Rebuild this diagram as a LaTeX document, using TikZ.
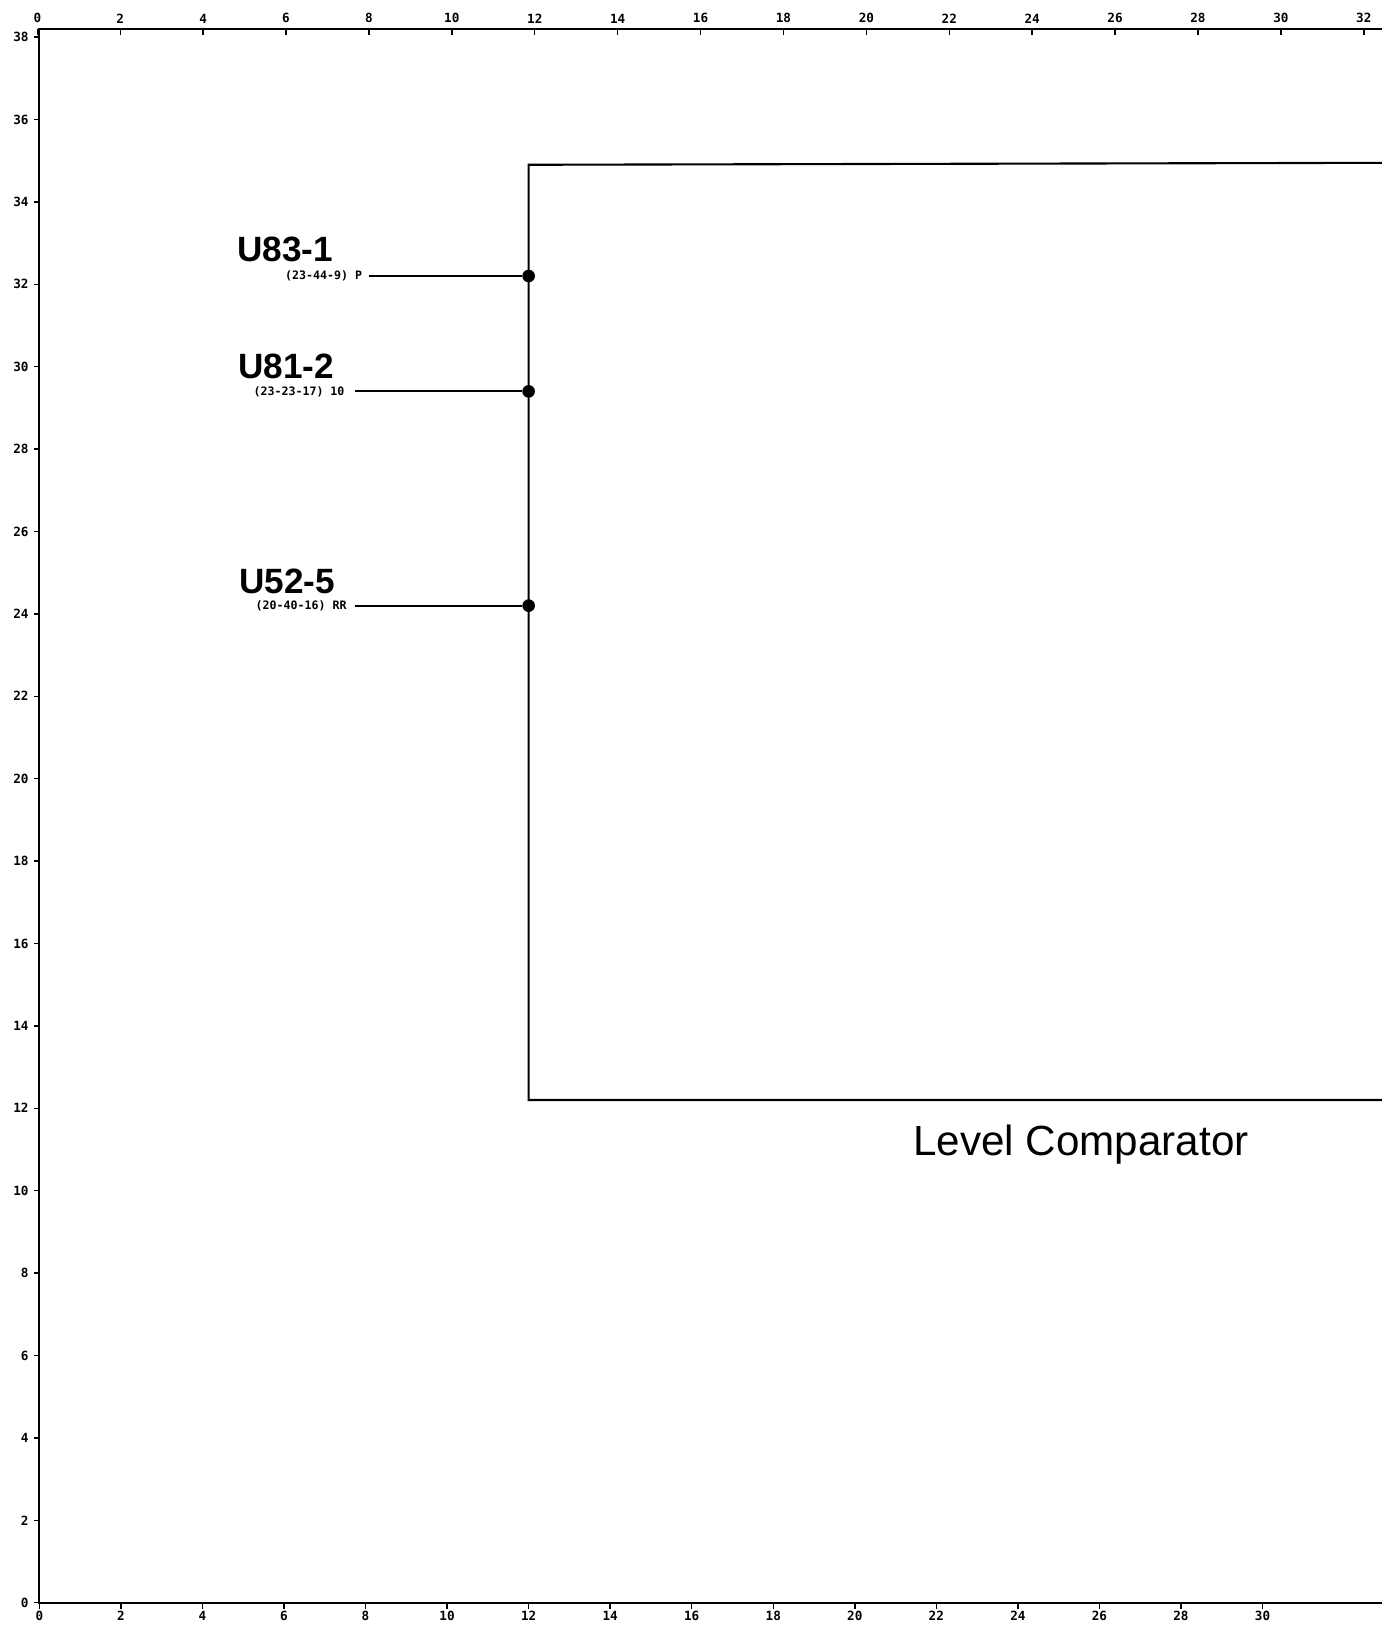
\documentclass[tikz,border=0pt]{standalone}
\usepackage{fontspec}
\setmainfont{Liberation Sans}
\newfontfamily\plotfont{DejaVu Sans Mono}
\begin{document}
\begin{tikzpicture}[x=0.4077cm,y=0.412cm]
		\tikzstyle{frame}=[line width=0.6pt]
		\tikzstyle{wire}=[line width=0.6pt]
		\tikzstyle{tick}=[line width=0.4pt]
		\tikzstyle{scalelabel}=[font=\plotfont\bfseries\fontsize{3.6}{4}\selectfont,inner sep=0pt]
		\tikzstyle{pinlabel}=[font=\plotfont\bfseries\fontsize{3.3}{4}\selectfont,inner sep=0pt,anchor=east]
		\tikzstyle{partname}=[font=\bfseries\fontsize{10}{12}\selectfont,inner sep=0pt,anchor=base east]
		\tikzstyle{title}=[font=\fontsize{12}{14}\selectfont,inner sep=0pt,anchor=base west]
		\tikzstyle{pindot}=[circle,fill,inner sep=0pt,minimum size=3.6pt]

		\useasboundingbox (-0.966,-0.541) rectangle (32.93,38.9);

		\coordinate (origin) at (0,0);
		\coordinate (ytop) at (0,38.2);
		\coordinate (xend) at (33.5,0);
		\coordinate (topend) at (33.5,38.2);
		\draw[frame] (xend) -- (origin) -- (ytop) -- (topend);

		\foreach \v in {0,2,...,30}{
			\draw[tick] (\v,0) -- (\v,-0.15);
			\node[scalelabel,anchor=north] (xl\v) at (\v,-0.18) {\v};
		}
		\foreach \v in {0,2,...,38}{
			\draw[tick] (0,\v) -- (-0.12,\v);
			\node[scalelabel,anchor=east] (yl\v) at (-0.25,\v) {\v};
		}
		\foreach \v in {0,2,...,32}{
			\draw[tick] ({-0.05+1.0167*\v},38.2) -- ({-0.05+1.0167*\v},38.05);
			\node[scalelabel,anchor=south] (tl\v) at ({-0.05+1.0167*\v},38.32) {\v};
		}

		\coordinate (boxnw) at (12,34.9);
		\coordinate (boxsw) at (12,12.2);
		\coordinate (boxne) at (34,34.95);
		\coordinate (boxse) at (34,12.2);
		\draw[frame] (boxne) -- (boxnw) -- (boxsw) -- (boxse);
		\node[title] (comparator) at (21.42,10.85) {Level Comparator};

		\node[pindot] (pinP) at (12,32.2) {};
		\node[pindot] (pin10) at (12,29.4) {};
		\node[pindot] (pinRR) at (12,24.2) {};

		\coordinate (wireP) at (8.08,32.2);
		\coordinate (wire10) at (7.73,29.4);
		\coordinate (wireRR) at (7.73,24.2);
		\draw[wire] (wireP) -- (pinP);
		\draw[wire] (wire10) -- (pin10);
		\draw[wire] (wireRR) -- (pinRR);

		\node[pinlabel] (labP) at (7.93,32.2) {(23-44-9) P};
		\node[pinlabel] (lab10) at (7.5,29.4) {(23-23-17) 10};
		\node[pinlabel] (labRR) at (7.55,24.2) {(20-40-16) RR};

		\node[partname] (U83) at (7.22,32.56) {U83-1};
		\node[partname] (U81) at (7.24,29.72) {U81-2};
		\node[partname] (U52) at (7.27,24.5) {U52-5};
	\end{tikzpicture}
\end{document}
